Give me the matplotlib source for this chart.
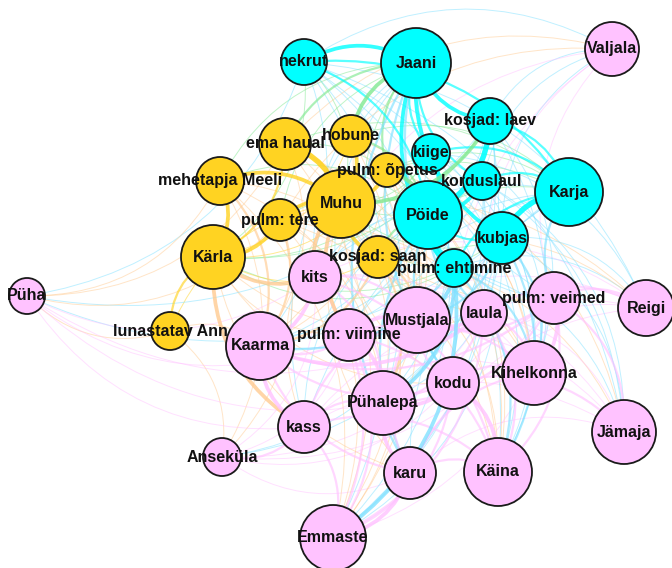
import numpy as np
import matplotlib.pyplot as plt
import matplotlib.colors as mcolors
from matplotlib.path import Path
from matplotlib.patches import PathPatch, Circle

# node layout (pixel coords), radius and group
names = ['nekrut', 'Jaani', 'kosjad: laev', 'kiige', 'korduslaul', 'Karja', 'Pöide',
         'kubjas', 'pulm: ehtimine',
         'hobune', 'ema haual', 'pulm: õpetus', 'mehetapja Meeli', 'Muhu', 'pulm: tere',
         'Kärla', 'kosjad: saan', 'lunastatav Ann',
         'Valjala', 'kits', 'Mustjala', 'laula', 'pulm: veimed', 'Reigi', 'pulm: viimine',
         'Kaarma', 'kodu', 'Kihelkonna', 'Pühalepa', 'Jämaja', 'kass', 'Anseküla', 'karu',
         'Käina', 'Emmaste', 'Püha']
xs = [304, 416, 490, 431, 482, 569, 428, 502, 454,
      351, 285, 387, 220, 341, 280, 213, 378, 170,
      612, 315, 417, 484, 554, 646, 349, 260, 453, 534, 383, 624, 304, 222, 410,
      498, 333, 27]
ys = [62, 63, 121, 153, 181, 192, 215, 238, 268,
      136, 144, 170, 181, 204, 220, 257, 257, 331,
      49, 277, 320, 313, 298, 308, 335, 346, 383, 373, 403, 432, 427, 457, 473,
      472, 538, 296]
radii = [23, 35, 23, 19, 19, 34, 34, 26, 19,
         21, 26, 17, 24, 34, 21, 32, 21, 19,
         27, 26, 33, 23, 26, 28, 26, 34, 26, 32, 32, 32, 26, 19, 26,
         34, 33, 18]
groups = ['c'] * 9 + ['y'] * 9 + ['p'] * 18
group_colors = {'c': '#00FFFF', 'y': '#FFD322', 'p': '#FFC2FF'}

songs = ['nekrut', 'kosjad: laev', 'kiige', 'korduslaul', 'kubjas', 'pulm: ehtimine',
         'hobune', 'ema haual', 'pulm: õpetus', 'mehetapja Meeli', 'pulm: tere',
         'kosjad: saan', 'lunastatav Ann',
         'kits', 'laula', 'pulm: veimed', 'pulm: viimine', 'kodu', 'kass', 'karu']

# edge weights parish -> song (same order as songs)
w_jaani = [3, 3, 2, 2, 3, 3, 3, 2, 2, 1, 1, 1, 0, 1, 2, 1, 1, 2, 1, 2]
w_poide = [2, 4, 3, 3, 2, 4, 2, 1, 3, 1, 1, 2, 0, 1, 2, 1, 1, 2, 1, 2]
w_karja = [2, 2, 2, 2, 4, 2, 1, 1, 1, 0, 1, 1, 0, 1, 1, 2, 1, 1, 1, 1]
w_muhu = [1, 3, 1, 1, 1, 1, 3, 4, 3, 3, 3, 3, 1, 3, 1, 1, 3, 1, 1, 1]
w_karla = [1, 1, 1, 0, 1, 1, 1, 2, 1, 3, 3, 1, 2, 3, 1, 0, 1, 1, 3, 1]
w_valjala = [1, 1, 0, 1, 1, 0, 0, 1, 0, 0, 1, 0, 0, 1, 1, 1, 0, 1, 0, 0]
w_mustjala = [1, 1, 1, 1, 2, 3, 1, 1, 1, 1, 1, 2, 0, 2, 3, 2, 3, 2, 2, 2]
w_reigi = [1, 0, 1, 0, 1, 1, 0, 0, 0, 0, 1, 1, 0, 1, 2, 2, 1, 1, 1, 1]
w_kaarma = [1, 1, 1, 1, 1, 2, 1, 1, 1, 2, 2, 2, 1, 3, 3, 2, 2, 2, 3, 2]
w_kihelkonna = [1, 1, 1, 1, 2, 2, 1, 0, 1, 0, 1, 1, 0, 1, 2, 3, 2, 2, 1, 2]
w_pyhalepa = [1, 1, 1, 1, 1, 3, 1, 1, 1, 1, 1, 2, 0, 2, 2, 2, 3, 3, 2, 3]
w_jamaja = [1, 0, 1, 1, 1, 1, 0, 0, 1, 0, 0, 1, 0, 1, 1, 2, 1, 2, 1, 1]
w_ansekyla = [0, 0, 0, 0, 1, 1, 0, 0, 0, 1, 1, 0, 1, 1, 1, 1, 1, 1, 2, 1]
w_kaina = [1, 1, 1, 1, 2, 2, 1, 1, 1, 0, 1, 1, 0, 2, 2, 2, 2, 3, 2, 2]
w_emmaste = [1, 1, 1, 1, 1, 3, 1, 1, 1, 1, 1, 1, 0, 2, 2, 1, 2, 2, 2, 3]
w_pyha = [1, 1, 0, 0, 1, 0, 0, 1, 0, 1, 1, 0, 1, 1, 1, 0, 1, 1, 1, 0]

weights = {
    'Jaani': w_jaani, 'Pöide': w_poide, 'Karja': w_karja, 'Muhu': w_muhu,
    'Kärla': w_karla, 'Valjala': w_valjala, 'Mustjala': w_mustjala, 'Reigi': w_reigi,
    'Kaarma': w_kaarma, 'Kihelkonna': w_kihelkonna, 'Pühalepa': w_pyhalepa,
    'Jämaja': w_jamaja, 'Anseküla': w_ansekyla, 'Käina': w_kaina,
    'Emmaste': w_emmaste, 'Püha': w_pyha,
}

idx = {n: i for i, n in enumerate(names)}

fig = plt.figure(figsize=(6.72, 5.68), dpi=100)
ax = fig.add_axes([0, 0, 1, 1])
ax.set_xlim(0, 672)
ax.set_ylim(568, 0)
ax.axis('off')

# edges, coloured by the mix of both end colours, curved clockwise
edges = []
for parish, ws in weights.items():
    for song, w in zip(songs, ws):
        if w > 0:
            edges.append((w, parish, song))
edges.sort(key=lambda e: e[0])

k = 0.3
for w, a, b in edges:
    i, j = idx[a], idx[b]
    x0, y0, x1, y1 = xs[i], ys[i], xs[j], ys[j]
    dx, dy = x1 - x0, y1 - y0
    cx = (x0 + x1) / 2 - k * dy
    cy = (y0 + y1) / 2 + k * dx
    ca = np.array(mcolors.to_rgb(group_colors[groups[i]]))
    cb = np.array(mcolors.to_rgb(group_colors[groups[j]]))
    col = (ca + cb) / 2
    path = Path([(x0, y0), (cx, cy), (x1, y1)], [Path.MOVETO, Path.CURVE3, Path.CURVE3])
    lw = {1: 0.7, 2: 1.6, 3: 2.7, 4: 3.9}[w]
    alpha = {1: 0.5, 2: 0.65, 3: 0.8, 4: 0.9}[w]
    ax.add_patch(PathPatch(path, facecolor='none', edgecolor=col, lw=lw, alpha=alpha, zorder=1))

for n, x, y, r, g in zip(names, xs, ys, radii, groups):
    ax.add_patch(Circle((x, y), r, facecolor=group_colors[g], edgecolor='#1a1a1a',
                        lw=1.3, zorder=2))

for n, x, y in zip(names, xs, ys):
    ax.text(x, y, n, ha='center', va='center', fontsize=11.5, fontweight='bold',
            family=['Liberation Sans', 'DejaVu Sans'], color='#111111', zorder=3)

fig.savefig('out.png', dpi=100)
